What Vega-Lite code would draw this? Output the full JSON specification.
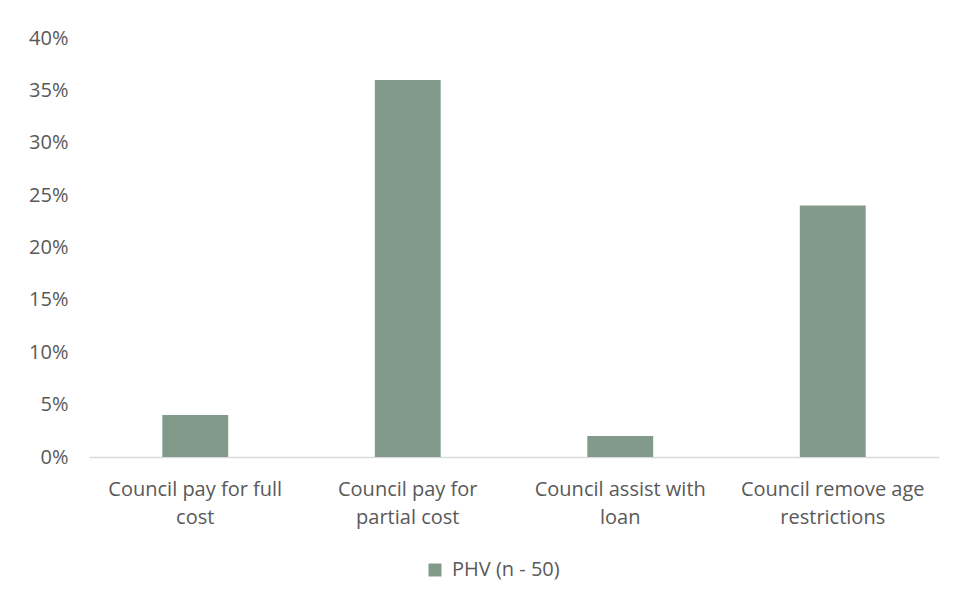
{
  "$schema": "https://vega.github.io/schema/vega-lite/v6.json",
  "autosize": "none",
  "width": 850,
  "height": 419,
  "padding": {"left": 89, "top": 38, "right": 15, "bottom": 146},
  "background": "white",
  "config": {"view": {"stroke": null}, "font": "Open Sans"},
  "data": {"values": [
    {"option": "Council pay for full cost", "share": 0.04, "series": "PHV (n - 50)"},
    {"option": "Council pay for partial cost", "share": 0.36, "series": "PHV (n - 50)"},
    {"option": "Council assist with loan", "share": 0.02, "series": "PHV (n - 50)"},
    {"option": "Council remove age restrictions", "share": 0.24, "series": "PHV (n - 50)"}
  ]},
  "mark": {"type": "bar"},
  "encoding": {
    "x": {
      "field": "option", "type": "nominal", "sort": null,
      "scale": {"paddingInner": 0.69, "paddingOuter": 0.345},
      "axis": {
        "title": null, "labelAngle": 0, "ticks": false, "domainColor": "#d9d9d9", "domainWidth": 1.5,
        "labelFontSize": 20, "labelColor": "#595959", "labelPadding": 22, "labelLineHeight": 28, "labelLimit": 260,
        "labelExpr": "datum.value == 'Council pay for full cost' ? ['Council pay for full', 'cost'] : datum.value == 'Council pay for partial cost' ? ['Council pay for', 'partial cost'] : datum.value == 'Council assist with loan' ? ['Council assist with', 'loan'] : ['Council remove age', 'restrictions']"
      }
    },
    "y": {
      "field": "share", "type": "quantitative",
      "scale": {"domain": [0, 0.4]},
      "axis": {
        "title": null, "format": ".0%", "values": [0, 0.05, 0.1, 0.15, 0.2, 0.25, 0.3, 0.35, 0.4],
        "labelOverlap": false, "grid": false, "domain": false, "ticks": false,
        "labelFontSize": 20, "labelColor": "#595959", "labelPadding": 21
      }
    },
    "color": {
      "field": "series", "type": "nominal",
      "scale": {"range": ["#819A89"]},
      "legend": {
        "title": null, "orient": "none", "legendX": 336, "legendY": 522,
        "symbolType": "square", "symbolSize": 169, "symbolStrokeWidth": 0,
        "labelFontSize": 20, "labelColor": "#595959", "labelOffset": 7
      }
    }
  }
}
